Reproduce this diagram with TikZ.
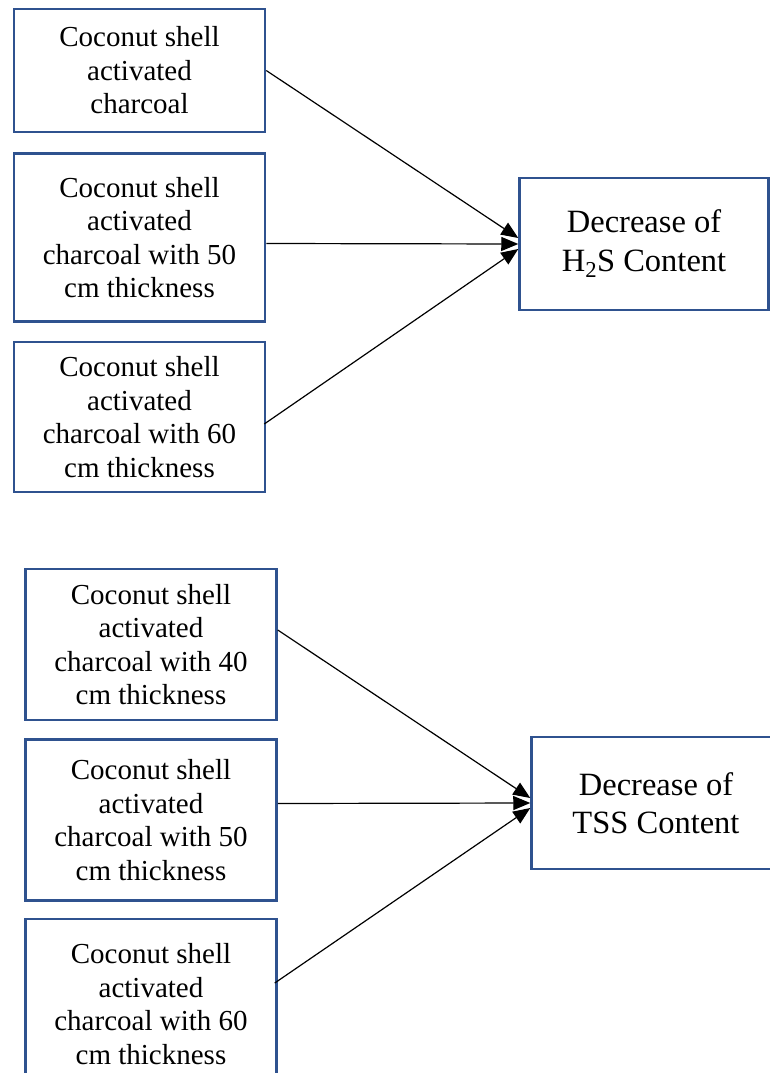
\documentclass[tikz,border=0pt]{standalone}
\usepackage{fontspec}
\setmainfont{Liberation Serif}
\usetikzlibrary{positioning}
\usetikzlibrary{arrows.meta}
\definecolor{boxblue}{RGB}{47,82,143}
\tikzset{
  cause/.style={draw=boxblue, line width=2.5pt, minimum width=251pt, align=center,
    font=\fontsize{29}{33.5}\selectfont, inner sep=0pt},
  effect/.style={draw=boxblue, line width=2.5pt, minimum width=249pt, minimum height=132pt,
    align=center, font=\fontsize{32.5}{38.5}\selectfont, inner sep=0pt},
  link/.style={draw=black, line width=1.2pt, -{Triangle[length=17pt,width=14pt]}}
}

\begin{document}
\begin{tikzpicture}[x=1pt,y=-1pt]
        \useasboundingbox (0,0) rectangle (770,1073);
        % Define nodes
        \node[cause, minimum height=123pt] (A1) at (139.5,70.5) {Coconut shell\\activated\\charcoal};
        \node[cause, minimum height=168pt, below=19pt of A1] (A2) {Coconut shell\\activated\\charcoal with 50\\cm thickness};
        \node[cause, minimum height=150pt, below=18pt of A2] (A3) {Coconut shell\\activated\\charcoal with 60\\cm thickness};
        \node[effect] (T1) at (644,244) {Decrease of\\H\textsubscript{2}S Content};
        \node[cause, minimum height=151pt] (B1) at (151,644.5) {Coconut shell\\activated\\charcoal with 40\\cm thickness};
        \node[cause, minimum height=161pt, below=17pt of B1] (B2) {Coconut shell\\activated\\charcoal with 50\\cm thickness};
        \node[cause, minimum height=170pt, below=16pt of B2] (B3) {Coconut shell\\activated\\charcoal with 60\\cm thickness};
        \node[effect] (T2) at (656,803) {Decrease of\\TSS Content};
        % Connect nodes
        \draw[link] (A1.east) -- ([yshift=6pt]T1.west);
        \draw[link] ([yshift=-6pt]A2.east) -- (T1.west);
        \draw[link] ([yshift=-7pt,xshift=-2pt]A3.east) -- ([yshift=-5pt]T1.west);
        \draw[link] ([yshift=14.5pt]B1.east) -- ([yshift=5pt]T2.west);
        \draw[link] ([yshift=16.5pt]B2.east) -- (T2.west);
        \draw[link] ([yshift=21pt,xshift=-3pt]B3.east) -- ([yshift=-5pt]T2.west);
    \end{tikzpicture}
\end{document}
